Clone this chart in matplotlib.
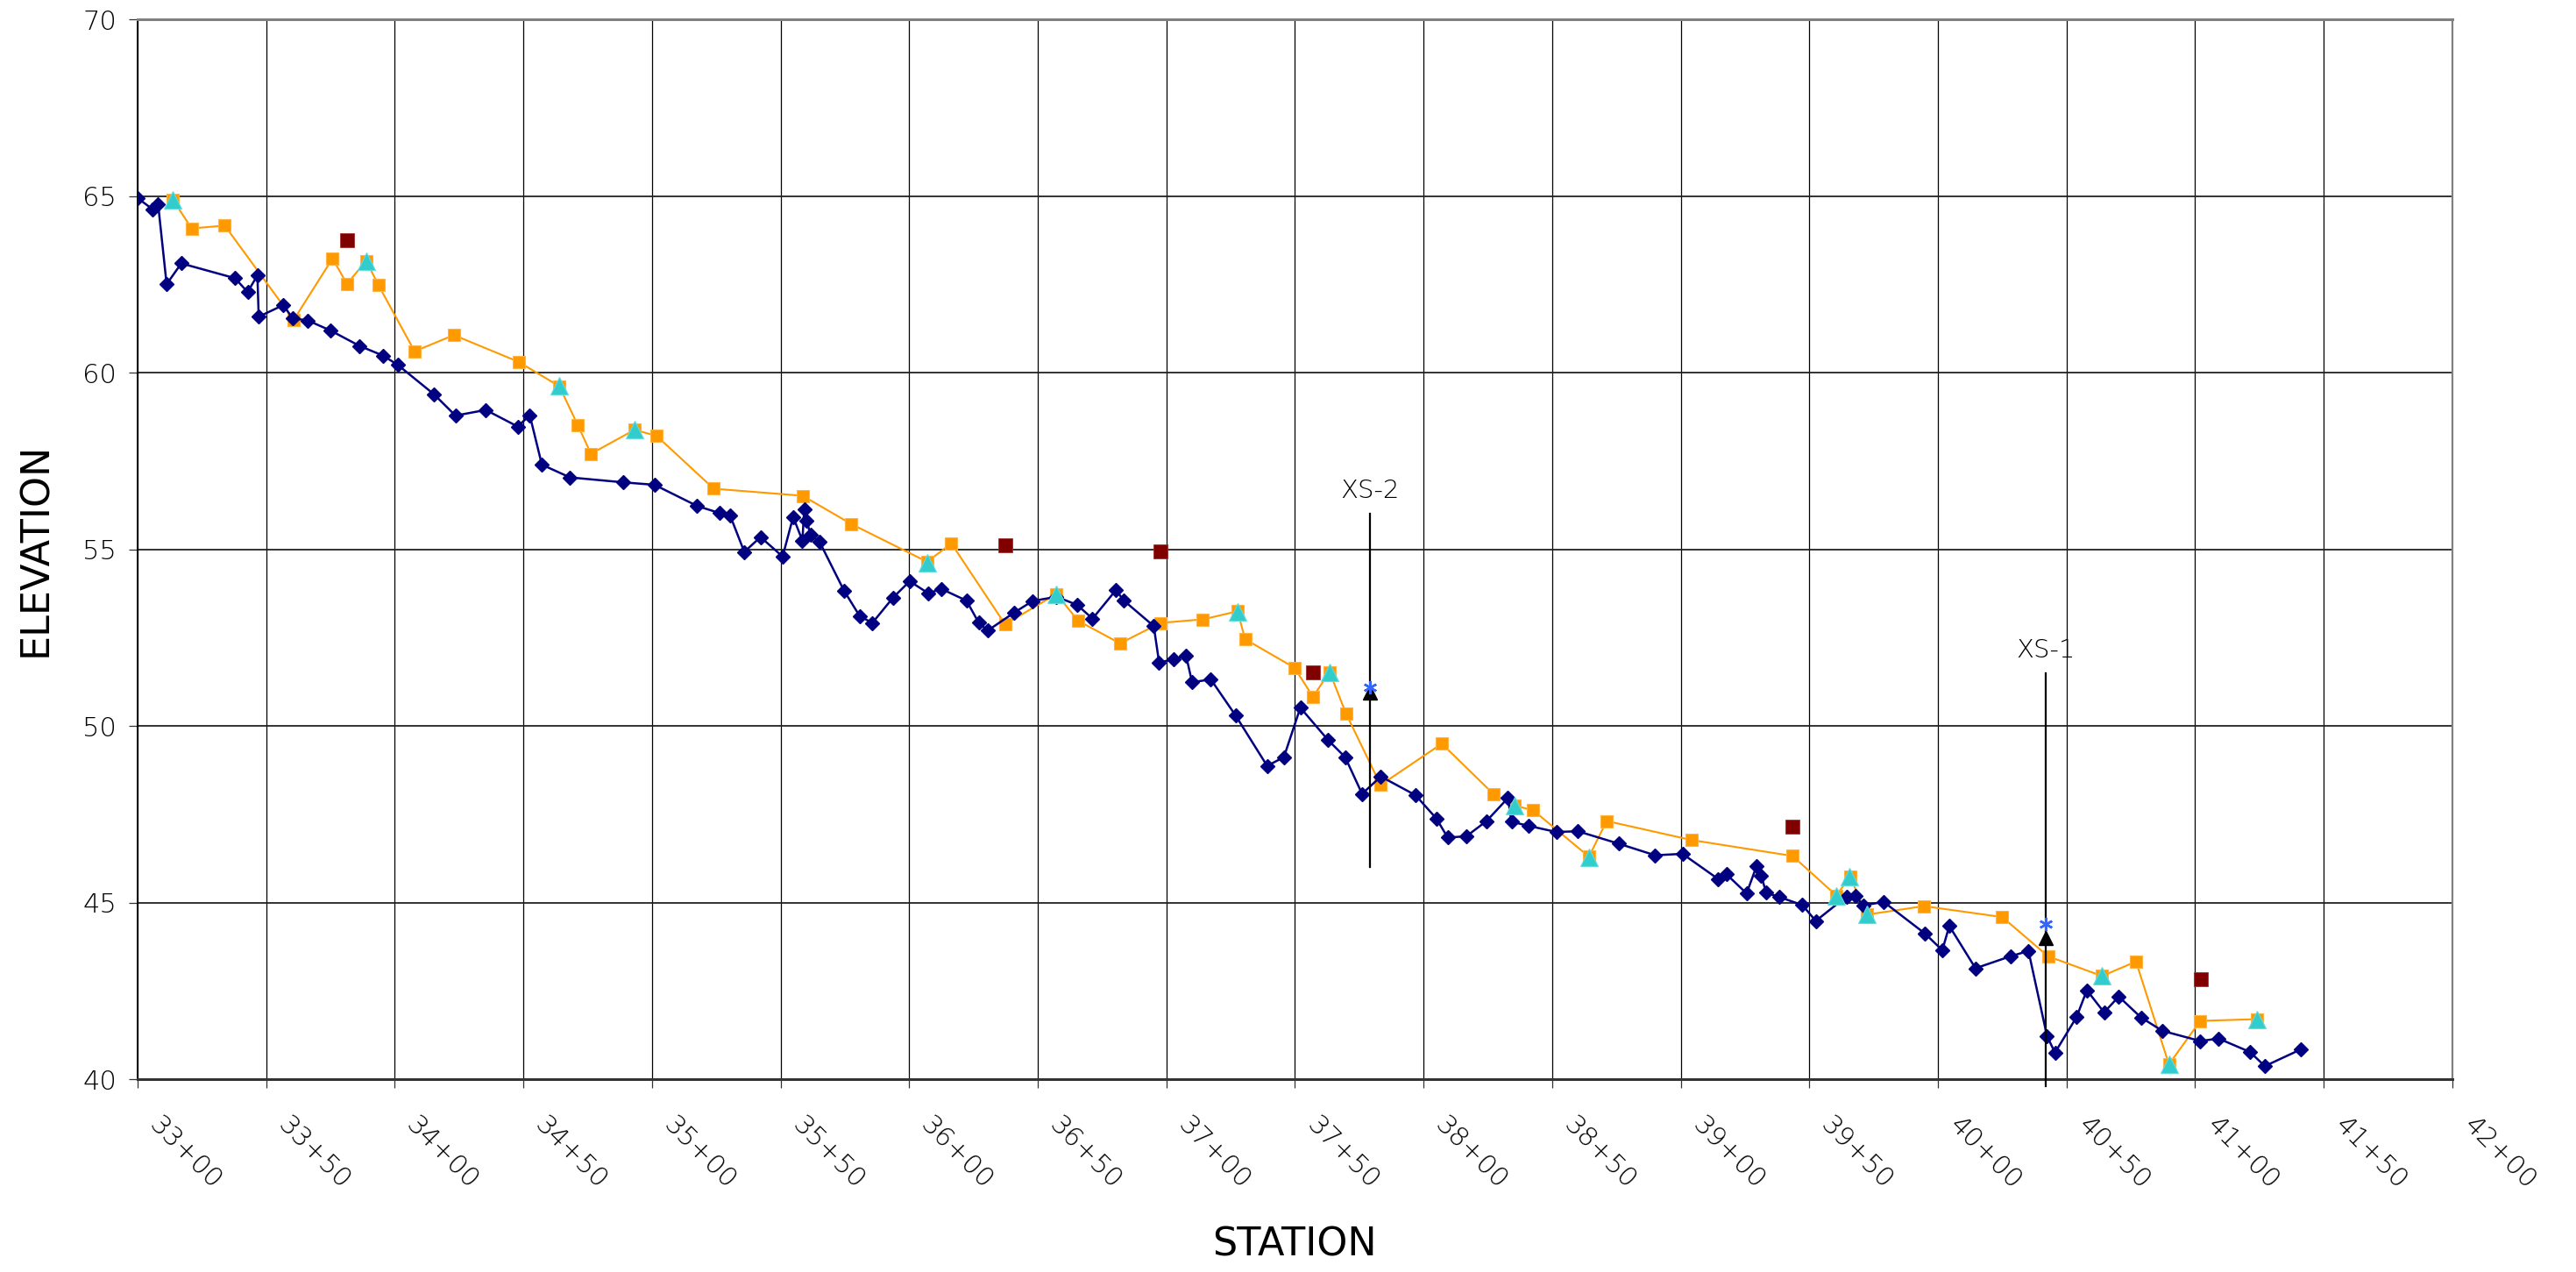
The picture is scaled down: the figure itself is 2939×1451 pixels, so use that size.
import matplotlib
matplotlib.use('Agg')
import matplotlib.pyplot as plt
import matplotlib.transforms as mtransforms

plt.rcParams['font.family'] = ['DejaVu Sans']
plt.rcParams['font.weight'] = 'light'

# channel bed (thalweg) survey
bed_sta = [3300, 3305.9, 3308, 3311.3, 3317, 3337.9, 3342.8, 3346.6, 3347.1, 3356.7,
           3360.2, 3366.3, 3375, 3386.4, 3395.4, 3401.1, 3415.3, 3423.6, 3435.4, 3447.8,
           3452.5, 3457.2, 3468.1, 3488.9, 3501, 3517.6, 3526.3, 3530.4, 3535.9, 3542.2,
           3550.8, 3554.9, 3558.5, 3559.2, 3560.2, 3561.6, 3565.2, 3574.7, 3580.8, 3585.7,
           3593.8, 3600.2, 3607.4, 3612.6, 3622.3, 3627, 3630.5, 3640.8, 3648, 3657.3,
           3665.3, 3671.3, 3680.4, 3683.5, 3695.1, 3697.2, 3702.8, 3707.7, 3710, 3717.3,
           3726.9, 3739.2, 3745.7, 3752.1, 3762.9, 3769.5, 3776.1, 3783.4, 3796.9, 3805,
           3809.4, 3816.7, 3824.5, 3832.8, 3834.2, 3841, 3851.6, 3860, 3875.8, 3890,
           3900.7, 3914.5, 3917.8, 3925.6, 3929.5, 3931.3, 3933.2, 3938.2, 3947.3, 3952.5,
           3964.4, 3967.8, 3971, 3978.9, 3995, 4001.7, 4004.4, 4014.6, 4028.2, 4035.2,
           4042.4, 4045.5, 4053.9, 4057.9, 4064.6, 4070.3, 4078.9, 4087.2, 4102, 4109.1,
           4121.3, 4127.1, 4141]
bed_elev = [64.95, 64.63, 64.77, 62.51, 63.1, 62.68, 62.29, 62.76, 61.59, 61.92,
            61.55, 61.48, 61.2, 60.76, 60.49, 60.23, 59.39, 58.79, 58.95, 58.48,
            58.8, 57.4, 57.04, 56.9, 56.83, 56.23, 56.03, 55.96, 54.93, 55.35,
            54.8, 55.92, 55.25, 56.14, 55.81, 55.42, 55.21, 53.83, 53.11, 52.92,
            53.64, 54.1, 53.76, 53.88, 53.55, 52.93, 52.7, 53.21, 53.54, 53.66,
            53.43, 53.04, 53.85, 53.55, 52.83, 51.79, 51.9, 51.98, 51.24, 51.32,
            50.3, 48.87, 49.12, 50.52, 49.6, 49.12, 48.08, 48.57, 48.04, 47.38,
            46.84, 46.88, 47.31, 47.96, 47.29, 47.17, 47.0, 47.02, 46.67, 46.34,
            46.38, 45.67, 45.8, 45.26, 46.04, 45.76, 45.28, 45.16, 44.93, 44.48,
            45.17, 45.18, 44.92, 45.02, 44.12, 43.65, 44.34, 43.14, 43.48, 43.63,
            41.22, 40.75, 41.76, 42.52, 41.89, 42.34, 41.75, 41.37, 41.08, 41.15,
            40.77, 40.37, 40.84]

# water surface
ws_sta = [3313.7, 3321, 3333.9, 3360.7, 3375.8, 3381.4, 3388.9, 3393.7, 3407.7, 3423,
          3448.2, 3464, 3471.1, 3476.3, 3493.3, 3501.9, 3524, 3558.6, 3577.5, 3607,
          3616.4, 3637.3, 3657.3, 3665.7, 3682, 3697.7, 3714.2, 3727.7, 3730.6, 3749.8,
          3757, 3763.5, 3769.8, 3783.3, 3807.1, 3827.1, 3835.3, 3842.7, 3864.3, 3871.2,
          3904.3, 3943.5, 3960.5, 3965.8, 3972.4, 3994.6, 4025, 4042.8, 4063.8, 4077,
          4089.8, 4102, 4124.2]
ws_elev = [64.91, 64.09, 64.17, 61.5, 63.24, 62.52, 63.17, 62.48, 60.61, 61.07,
           60.31, 59.62, 58.53, 57.71, 58.39, 58.21, 56.72, 56.52, 55.72, 54.65,
           55.17, 52.88, 53.74, 52.98, 52.34, 52.92, 53.02, 53.25, 52.46, 51.65,
           50.83, 51.53, 50.36, 48.33, 49.5, 48.08, 47.75, 47.61, 46.3, 47.31,
           46.77, 46.32, 45.2, 45.73, 44.66, 44.9, 44.59, 43.48, 42.92, 43.33,
           40.42, 41.65, 41.7]

# water surface shots
shot_sta = [3313.7, 3388.9, 3464, 3493.3, 3607.2, 3657.3, 3727.7, 3763.5, 3835.3, 3864.3,
            3960.6, 3965.7, 3972.4, 4063.8, 4089.8, 4124.2]
shot_elev = [64.91, 63.17, 59.63, 58.39, 54.62, 53.72, 53.24, 51.52, 47.75, 46.29,
             45.2, 45.73, 44.66, 42.92, 40.42, 41.69]

# high water marks
hwm_sta = [3381.6, 3637.5, 3697.7, 3757, 3943.5, 4102.2]
hwm_elev = [63.76, 55.11, 54.94, 51.53, 47.15, 42.82]

# cross sections
xs_names = ['XS-2', 'XS-1']
xs_sta = [3779, 4042]
xs_elev = [50.95, 44.0]
xs_ws = [51.1, 44.4]
xs_top = [56.0, 51.5]
xs_bot = [46.0, 39.8]

station_ticks = list(range(3300, 4201, 50))
station_labels = ['%d+%02d' % (s // 100, s % 100) for s in station_ticks]
elev_ticks = [40, 45, 50, 55, 60, 65, 70]

fig = plt.figure(figsize=(29.39, 14.51), dpi=100)
ax = fig.add_axes([0.0534, 0.1516, 0.8986, 0.8329])

ax.plot(ws_sta, ws_elev, color='#FF9900', lw=1.5, marker='s', ms=10.5,
        mfc='#FF9900', mec='#FFB340', mew=0.8, zorder=3)
ax.plot(bed_sta, bed_elev, color='#000080', lw=1.8, marker='D', ms=8.5,
        mfc='#000080', mec='#000080', zorder=4)
ax.plot(shot_sta, shot_elev, ls='none', marker='^', ms=14,
        mfc='#33CCCC', mec='#66DDDD', mew=0.8, zorder=5)
ax.plot(hwm_sta, hwm_elev, ls='none', marker='s', ms=11.5,
        mfc='#800000', mec='#A03030', mew=0.6, zorder=5)

for name, s, e, w, top, bot in zip(xs_names, xs_sta, xs_elev, xs_ws, xs_top, xs_bot):
    ax.plot([s, s], [bot, top], color='black', lw=1.6, zorder=6, clip_on=False)
    ax.plot(s, e, ls='none', marker='^', ms=12, color='black', zorder=7)
    ax.plot(s, w, ls='none', marker=(6, 2, 0), ms=11, mec='#3366FF', mew=1.8, zorder=8)
    ax.text(s, top + 0.3, name, ha='center', va='bottom', fontsize=21)

ax.set_xlim(3300, 4200)
ax.set_ylim(40, 70)
ax.set_xticks(station_ticks)
ax.set_xticklabels(station_labels)
ax.set_yticks(elev_ticks)
ax.set_yticklabels([str(v) for v in elev_ticks])

ax.grid(axis='x', color='black', lw=0.9, zorder=0)
ax.grid(axis='y', color='#222222', lw=1.3, zorder=0)
ax.set_axisbelow(True)

ax.tick_params(axis='both', direction='out', length=7.2, width=0.9, color='#333333',
               labelsize=22)
ax.tick_params(axis='y', pad=10)
ax.tick_params(axis='x', pad=20)
shift = mtransforms.ScaledTranslation(0.28, 0, fig.dpi_scale_trans)
for lbl in ax.get_xticklabels():
    lbl.set_rotation(-45)
    lbl.set_ha('left')
    lbl.set_va('top')
    lbl.set_rotation_mode('anchor')
    lbl.set_transform(lbl.get_transform() + shift)

ax.spines['left'].set_color('black')
ax.spines['left'].set_linewidth(1.4)
ax.spines['bottom'].set_color('#333333')
ax.spines['bottom'].set_linewidth(2.2)
ax.spines['top'].set_color('#808080')
ax.spines['top'].set_linewidth(2.2)
ax.spines['right'].set_color('#808080')
ax.spines['right'].set_linewidth(1.6)

ax.set_xlabel('STATION', fontsize=32)
ax.set_ylabel('ELEVATION', fontsize=32)
ax.xaxis.set_label_coords(0.5, -0.1564)
ax.xaxis.label.set_va('center')
ax.yaxis.set_label_coords(-0.0439, 0.5)
ax.yaxis.label.set_va('center')

fig.savefig('out.png', dpi=100)
